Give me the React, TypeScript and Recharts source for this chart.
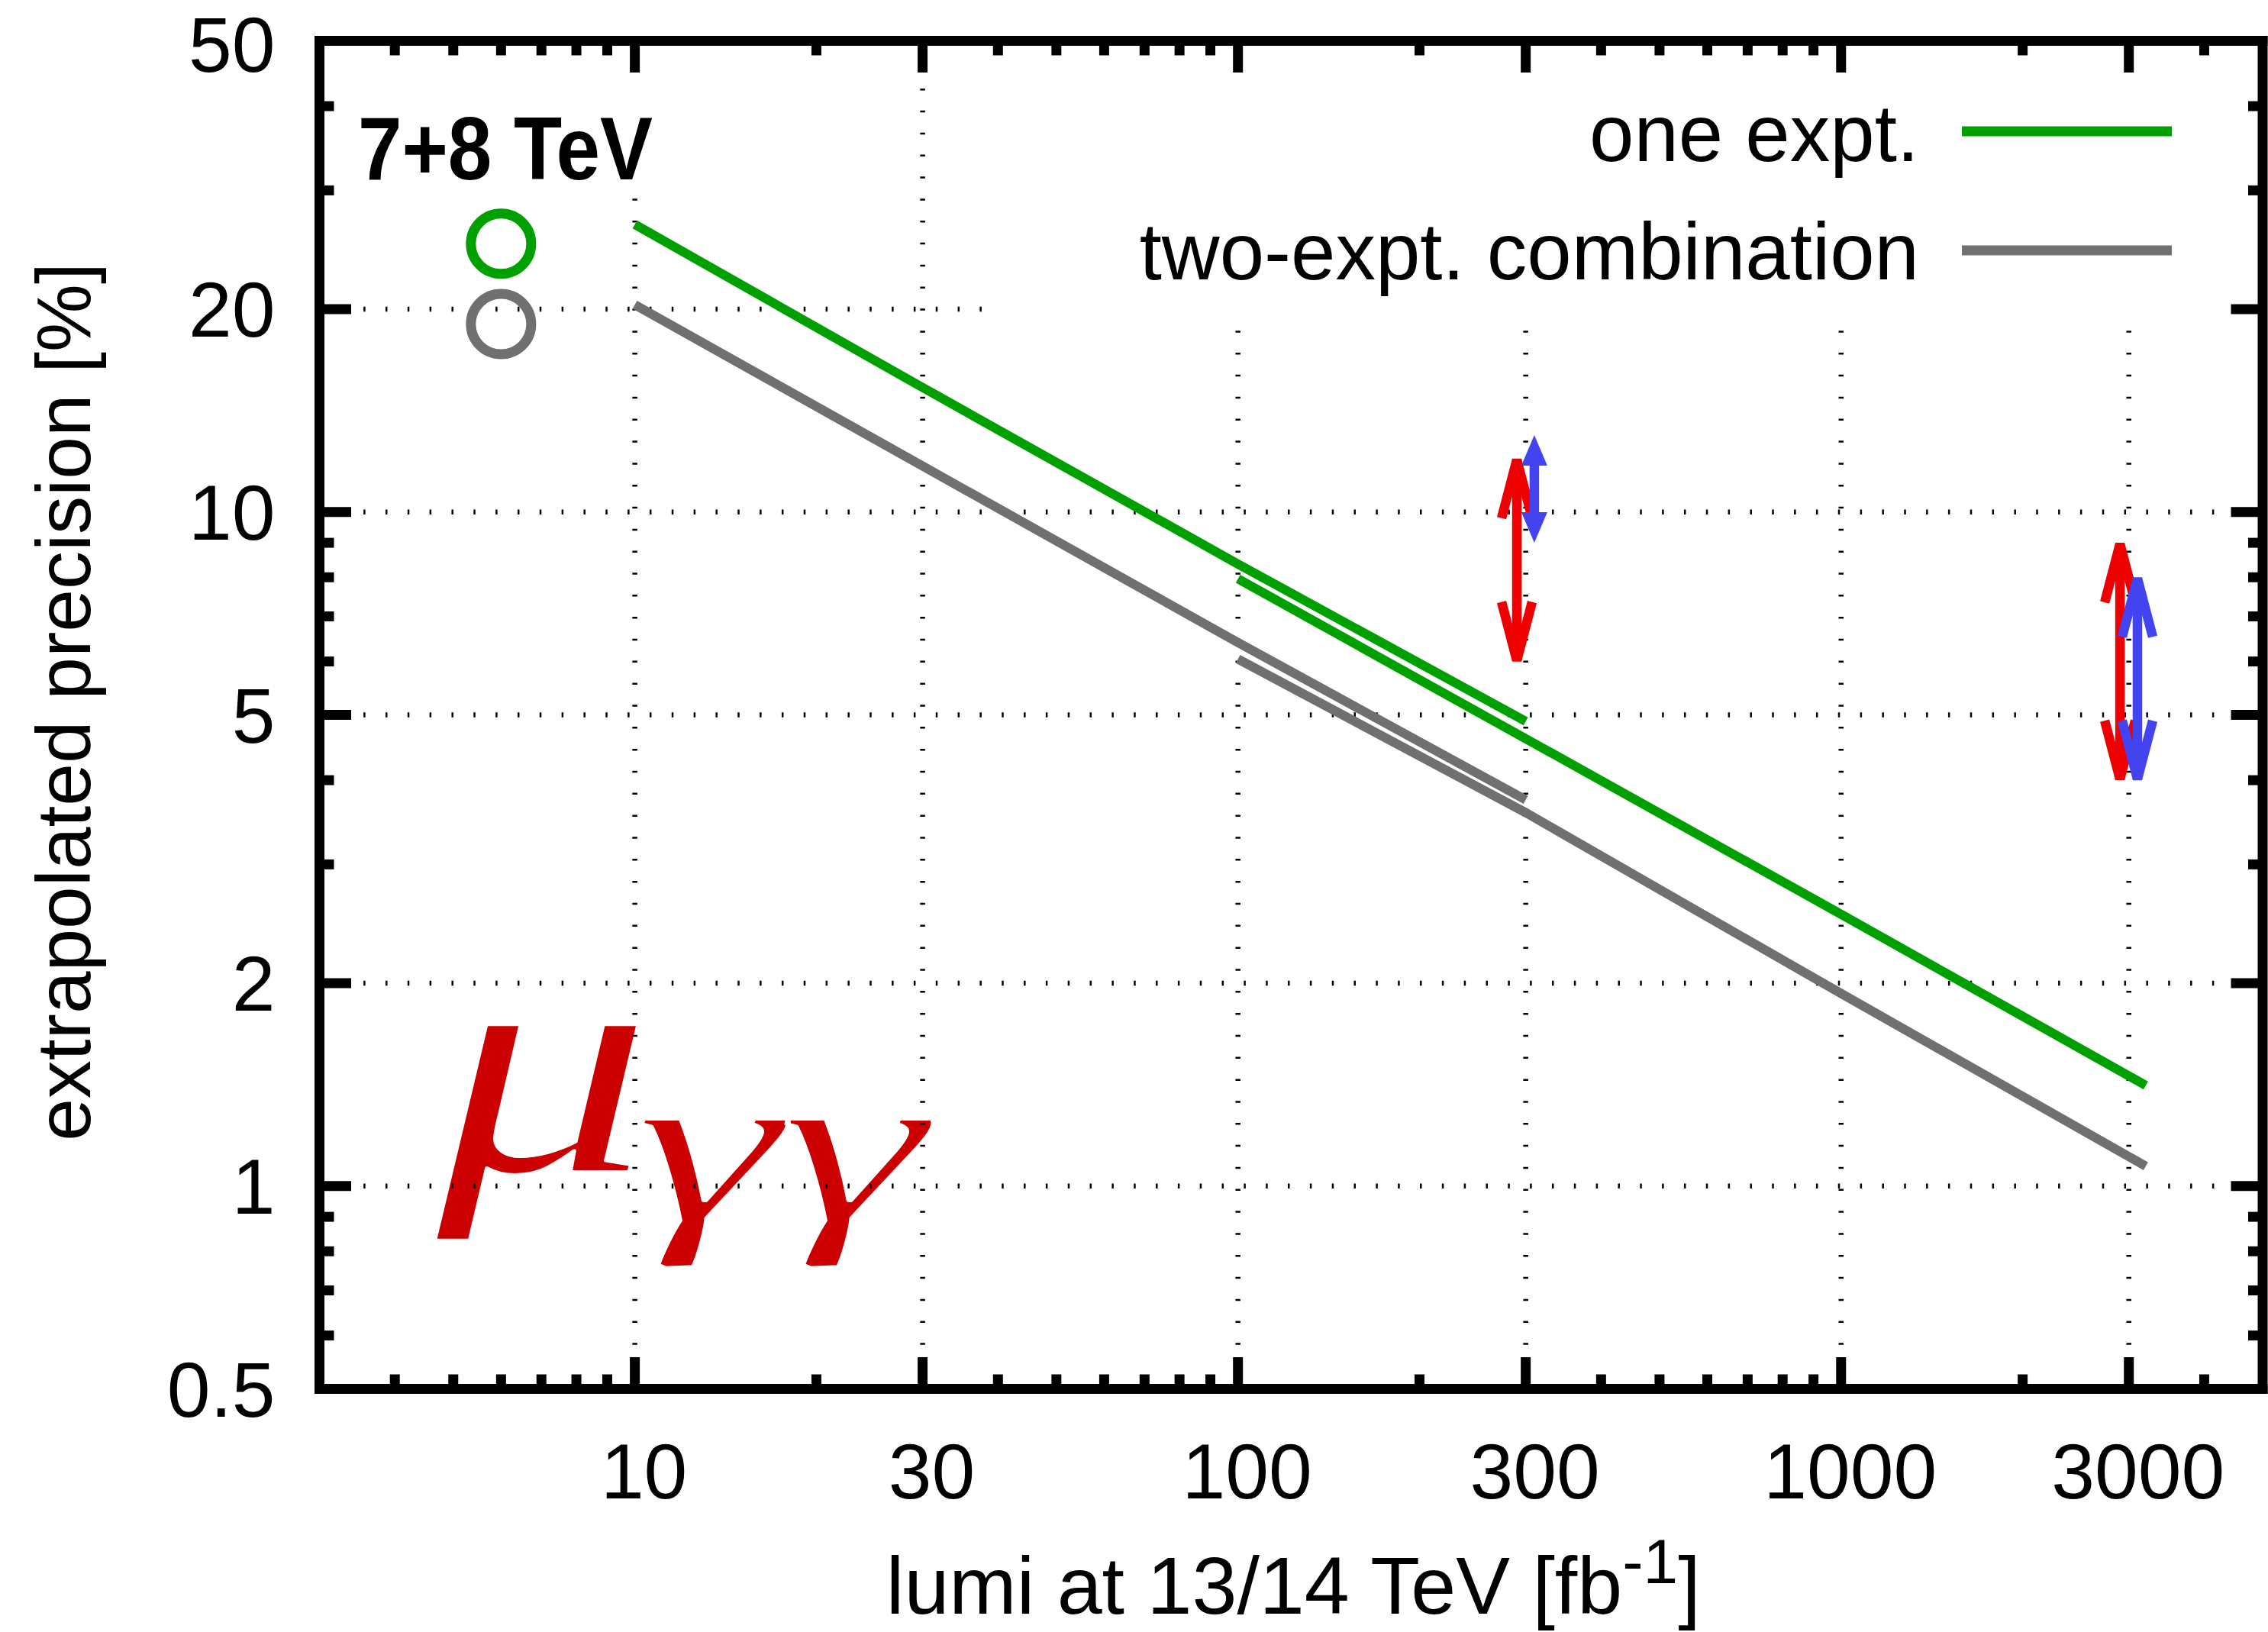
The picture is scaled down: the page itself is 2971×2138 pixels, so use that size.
import React from 'react';
import {
  LineChart,
  Line,
  XAxis,
  YAxis,
  ReferenceLine,
  ReferenceDot,
  Legend,
} from 'recharts';

// ---- data -------------------------------------------------------------
// extrapolation starting from the 7+8 TeV result, 10 - 300 fb^-1
const LUMI_RUN2 = [10, 30, 100, 300];
const ONE_EXPT_RUN2 = [26.7, 15.3, 8.37, 4.89];
const TWO_EXPT_RUN2 = [20.3, 11.7, 6.4, 3.74];

// extrapolation starting at 100 fb^-1, up to the high-luminosity phase
const LUMI_HL = [100, 300, 1000, 3200];
const ONE_EXPT_HL = [7.96, 4.61, 2.53, 1.41];
const TWO_EXPT_HL = [6.05, 3.58, 1.93, 1.07];

// 7+8 TeV reference points
const RUN1_LUMI = 6;
const RUN1_ONE = 25;
const RUN1_TWO = 19;

// projected ranges (arrows)
const RED_ARROWS = [
  { x: 290, lo: 6, hi: 12 },
  { x: 2900, lo: 4, hi: 9 },
];
const BLUE_ARROWS = [
  { x: 310, lo: 9, hi: 13, filled: true },
  { x: 3100, lo: 4, hi: 8, filled: false },
];

// axes
const X_DOMAIN = [3, 5000];
const Y_DOMAIN = [0.5, 50];
const X_MAJOR = [10, 30, 100, 300, 1000, 3000];
const X_MINOR = [4, 5, 6, 7, 8, 9, 20, 40, 50, 60, 70, 80, 90, 200, 400, 500, 600, 700, 800, 900, 2000, 4000];
const Y_MAJOR = [0.5, 1, 2, 5, 10, 20, 50];
const Y_MINOR = [0.6, 0.7, 0.8, 0.9, 3, 4, 6, 7, 8, 9, 30, 40];

// grid lines (dotted)
const X_GRID = [10, 30, 100, 300, 1000, 3000];
const Y_GRID = [1, 2, 5, 10, 20];

// ---- style ------------------------------------------------------------
const GREEN = '#00a000';
const GRAY = '#707070';
const RED = '#ee0000';
const BLUE = '#4343ef';
const MU_RED = '#cc0000';
const FONT = '"Liberation Sans", Arial, Helvetica, sans-serif';
const SERIF = '"Liberation Serif", "Times New Roman", serif';
const FS = 102;
const BORDER = 13;
const MAJOR_LEN = 41.5;
const MINOR_LEN = 19;
const LINE_W = 12;

// the key box and the "7+8 TeV" label hide the grid behind them
const KEY_LEFT = 38;
const KEY_BOTTOM = 18.6;
const LABEL_BOTTOM = 29.6;

const toPoints = (xs: number[], ys: number[]) => xs.map((x, i) => ({ x, v: ys[i] }));
const oneRun2 = toPoints(LUMI_RUN2, ONE_EXPT_RUN2);
const twoRun2 = toPoints(LUMI_RUN2, TWO_EXPT_RUN2);
const oneHL = toPoints(LUMI_HL, ONE_EXPT_HL);
const twoHL = toPoints(LUMI_HL, TWO_EXPT_HL);

const xTicks = [...X_MAJOR, ...X_MINOR].sort((a, b) => a - b);
const yTicks = [...Y_MAJOR, ...Y_MINOR].sort((a, b) => a - b);

const textStyle = { fontFamily: FONT, fontSize: FS, fill: '#000' } as const;

const BottomTick = (p: any) => {
  const major = X_MAJOR.includes(p.payload.value);
  return (
    <g>
      <line x1={p.x} x2={p.x} y1={p.y} y2={p.y - (major ? MAJOR_LEN : MINOR_LEN)} stroke="#000" strokeWidth={BORDER} />
      {major && (
        <text x={p.x + 12} y={p.y + 143.5} textAnchor="middle" {...textStyle}>
          {p.payload.value}
        </text>
      )}
    </g>
  );
};

const TopTick = (p: any) => {
  const major = X_MAJOR.includes(p.payload.value);
  return <line x1={p.x} x2={p.x} y1={p.y} y2={p.y + (major ? MAJOR_LEN : MINOR_LEN)} stroke="#000" strokeWidth={BORDER} />;
};

const LeftTick = (p: any) => {
  const major = Y_MAJOR.includes(p.payload.value);
  return (
    <g>
      <line x1={p.x} x2={p.x + (major ? MAJOR_LEN : MINOR_LEN)} y1={p.y} y2={p.y} stroke="#000" strokeWidth={BORDER} />
      {major && (
        <text x={p.x - 58} y={Math.max(p.y + 36.5, 94)} textAnchor="end" {...textStyle}>
          {p.payload.value}
        </text>
      )}
    </g>
  );
};

const RightTick = (p: any) => {
  const major = Y_MAJOR.includes(p.payload.value);
  return <line x1={p.x} x2={p.x - (major ? MAJOR_LEN : MINOR_LEN)} y1={p.y} y2={p.y} stroke="#000" strokeWidth={BORDER} />;
};

// double-headed arrow drawn between the scaled end points of a segment
const makeArrow = (color: string, filled: boolean) => (p: any) => {
  const x = p.x1;
  const top = Math.min(p.y1, p.y2);
  const bottom = Math.max(p.y1, p.y2);
  if (filled) {
    const L = 40;
    const W = 17;
    return (
      <g>
        <line x1={x} x2={x} y1={top + L - 1} y2={bottom - L + 1} stroke={color} strokeWidth={12.5} />
        <polygon points={`${x},${top} ${x - W},${top + L} ${x + W},${top + L}`} fill={color} />
        <polygon points={`${x},${bottom} ${x - W},${bottom - L} ${x + W},${bottom - L}`} fill={color} />
      </g>
    );
  }
  const L = 78;
  const W = 20;
  return (
    <g fill="none" stroke={color} strokeWidth={12.5} strokeLinejoin="bevel">
      <line x1={x} x2={x} y1={top + 1.5} y2={bottom - 1.5} />
      <polyline points={`${x - W},${top + L} ${x},${top + 1.5} ${x + W},${top + L}`} />
      <polyline points={`${x - W},${bottom - L} ${x},${bottom - 1.5} ${x + W},${bottom - L}`} />
    </g>
  );
};

const renderLegend = (props: any) => {
  const items = (props.payload || []).filter((it: any) => it.type !== 'none');
  return (
    <svg width={2971} height={420} style={{ display: 'block', overflow: 'visible' }}>
      {items.map((it: any, i: number) => (
        <g key={String(it.value)}>
          <text x={2514} y={211 + i * 155} textAnchor="end" {...textStyle} fontSize={105}>
            {it.value}
          </text>
          <line x1={2570} x2={2845} y1={172 + i * 156} y2={172 + i * 156} stroke={it.color} strokeWidth={13} />
        </g>
      ))}
    </svg>
  );
};

const XLabel = (p: any) => {
  const vb = p.viewBox || {};
  const cx = vb.x + vb.width / 2 + 3;
  const y = vb.y + 294.5;
  return (
    <text x={cx} y={y} textAnchor="middle" {...textStyle} fontSize={106}>
      lumi at 13/14 TeV [fb
      <tspan dy={-40} fontSize={82}>-1</tspan>
      <tspan dy={40}>]</tspan>
    </text>
  );
};

const YLabel = (p: any) => {
  const vb = p.viewBox || {};
  const cy = vb.y + vb.height / 2 - 17;
  const x = 117.5;
  return (
    <text x={x} y={cy} transform={`rotate(-90 ${x} ${cy})`} textAnchor="middle" {...textStyle} fontSize={100}>
      extrapolated precision [%]
    </text>
  );
};

const gridDots = { stroke: '#000', strokeWidth: 6.5, strokeDasharray: '2.5 26.33' };

export default function App() {
  return (
    <div style={{ position: 'absolute', left: 0, top: 0, width: 2971, height: 2138, background: '#fff', fontFamily: FONT }}>
      <LineChart width={2971} height={2138} margin={{ top: 33.5, right: 0, bottom: 0, left: 0 }}>
        <XAxis
          dataKey="x"
          type="number"
          scale="log"
          domain={X_DOMAIN}
          allowDataOverflow
          ticks={xTicks}
          interval={0}
          height={318.5}
          tickSize={0}
          tickMargin={0}
          tickLine={false}
          tick={BottomTick}
          axisLine={{ stroke: '#000', strokeWidth: BORDER, strokeLinecap: 'square' }}
          label={XLabel}
        />
        <XAxis
          xAxisId="top"
          orientation="top"
          dataKey="x"
          type="number"
          scale="log"
          domain={X_DOMAIN}
          allowDataOverflow
          ticks={xTicks}
          interval={0}
          height={20}
          tickSize={0}
          tickMargin={0}
          tickLine={false}
          tick={TopTick}
          axisLine={{ stroke: '#000', strokeWidth: BORDER, strokeLinecap: 'square' }}
        />
        <YAxis
          type="number"
          scale="log"
          domain={Y_DOMAIN}
          allowDataOverflow
          ticks={yTicks}
          interval={0}
          width={418.5}
          tickSize={0}
          tickMargin={0}
          tickLine={false}
          tick={LeftTick}
          axisLine={{ stroke: '#000', strokeWidth: BORDER, strokeLinecap: 'square' }}
          label={YLabel}
        />
        <YAxis
          yAxisId="right"
          orientation="right"
          type="number"
          scale="log"
          domain={Y_DOMAIN}
          allowDataOverflow
          ticks={yTicks}
          interval={0}
          width={7}
          tickSize={0}
          tickMargin={0}
          tickLine={false}
          tick={RightTick}
          axisLine={{ stroke: '#000', strokeWidth: BORDER, strokeLinecap: 'square' }}
        />

        {/* dotted grid */}
        {X_GRID.map((gx) => (
          <ReferenceLine
            key={`gx${gx}`}
            segment={[
              { x: gx, y: Y_DOMAIN[0] },
              { x: gx, y: gx === 10 ? LABEL_BOTTOM : gx > KEY_LEFT ? KEY_BOTTOM : Y_DOMAIN[1] },
            ]}
            {...gridDots}
          />
        ))}
        {Y_GRID.map((gy) => (
          <ReferenceLine
            key={`gy${gy}`}
            segment={[
              { x: X_DOMAIN[0], y: gy },
              { x: gy > KEY_BOTTOM ? KEY_LEFT : X_DOMAIN[1], y: gy },
            ]}
            {...gridDots}
          />
        ))}

        <Line data={oneRun2} dataKey="v" name="one expt." stroke={GREEN} strokeWidth={LINE_W} strokeLinecap="butt" dot={false} isAnimationActive={false} />
        <Line data={twoRun2} dataKey="v" name="two-expt. combination" stroke={GRAY} strokeWidth={LINE_W} strokeLinecap="butt" dot={false} isAnimationActive={false} />
        <Line data={oneHL} dataKey="v" name="one expt. (from 100 fb-1)" legendType="none" stroke={GREEN} strokeWidth={LINE_W} strokeLinecap="butt" dot={false} isAnimationActive={false} />
        <Line data={twoHL} dataKey="v" name="two-expt. (from 100 fb-1)" legendType="none" stroke={GRAY} strokeWidth={LINE_W} strokeLinecap="butt" dot={false} isAnimationActive={false} />

        <ReferenceDot x={RUN1_LUMI} y={RUN1_ONE} r={39.5} fill="none" stroke={GREEN} strokeWidth={13} />
        <ReferenceDot x={RUN1_LUMI} y={RUN1_TWO} r={39.5} fill="none" stroke={GRAY} strokeWidth={13} />

        {RED_ARROWS.map((a) => (
          <ReferenceLine key={`r${a.x}`} segment={[{ x: a.x, y: a.lo }, { x: a.x, y: a.hi }]} shape={makeArrow(RED, false)} />
        ))}
        {BLUE_ARROWS.map((a) => (
          <ReferenceLine key={`b${a.x}`} segment={[{ x: a.x, y: a.lo }, { x: a.x, y: a.hi }]} shape={makeArrow(BLUE, a.filled)} />
        ))}

        <text x={469} y={235} fontFamily={FONT} fontWeight="bold" fontSize={117} textLength={386} lengthAdjust="spacingAndGlyphs" fill="#000">
          7+8 TeV
        </text>
        {/* a thin white outline lightens the heavy serif strokes */}
        <text x={570} y={1535} fontFamily={SERIF} fontStyle="italic" fontWeight={400} fontSize={420} textLength={285} lengthAdjust="spacingAndGlyphs" fill={MU_RED} stroke="#fff" strokeWidth={4} strokeLinejoin="round">
          μ
        </text>
        <text x={832} y={1599} fontFamily={SERIF} fontStyle="italic" fontWeight={400} fontSize={290} textLength={380} lengthAdjust="spacingAndGlyphs" fill={MU_RED} stroke="#fff" strokeWidth={4} strokeLinejoin="round">
          γγ
        </text>

        <Legend
          layout="vertical"
          align="center"
          verticalAlign="middle"
          content={renderLegend}
          wrapperStyle={{ left: 0, top: 0, width: 2971, height: 420 }}
        />
      </LineChart>
    </div>
  );
}
